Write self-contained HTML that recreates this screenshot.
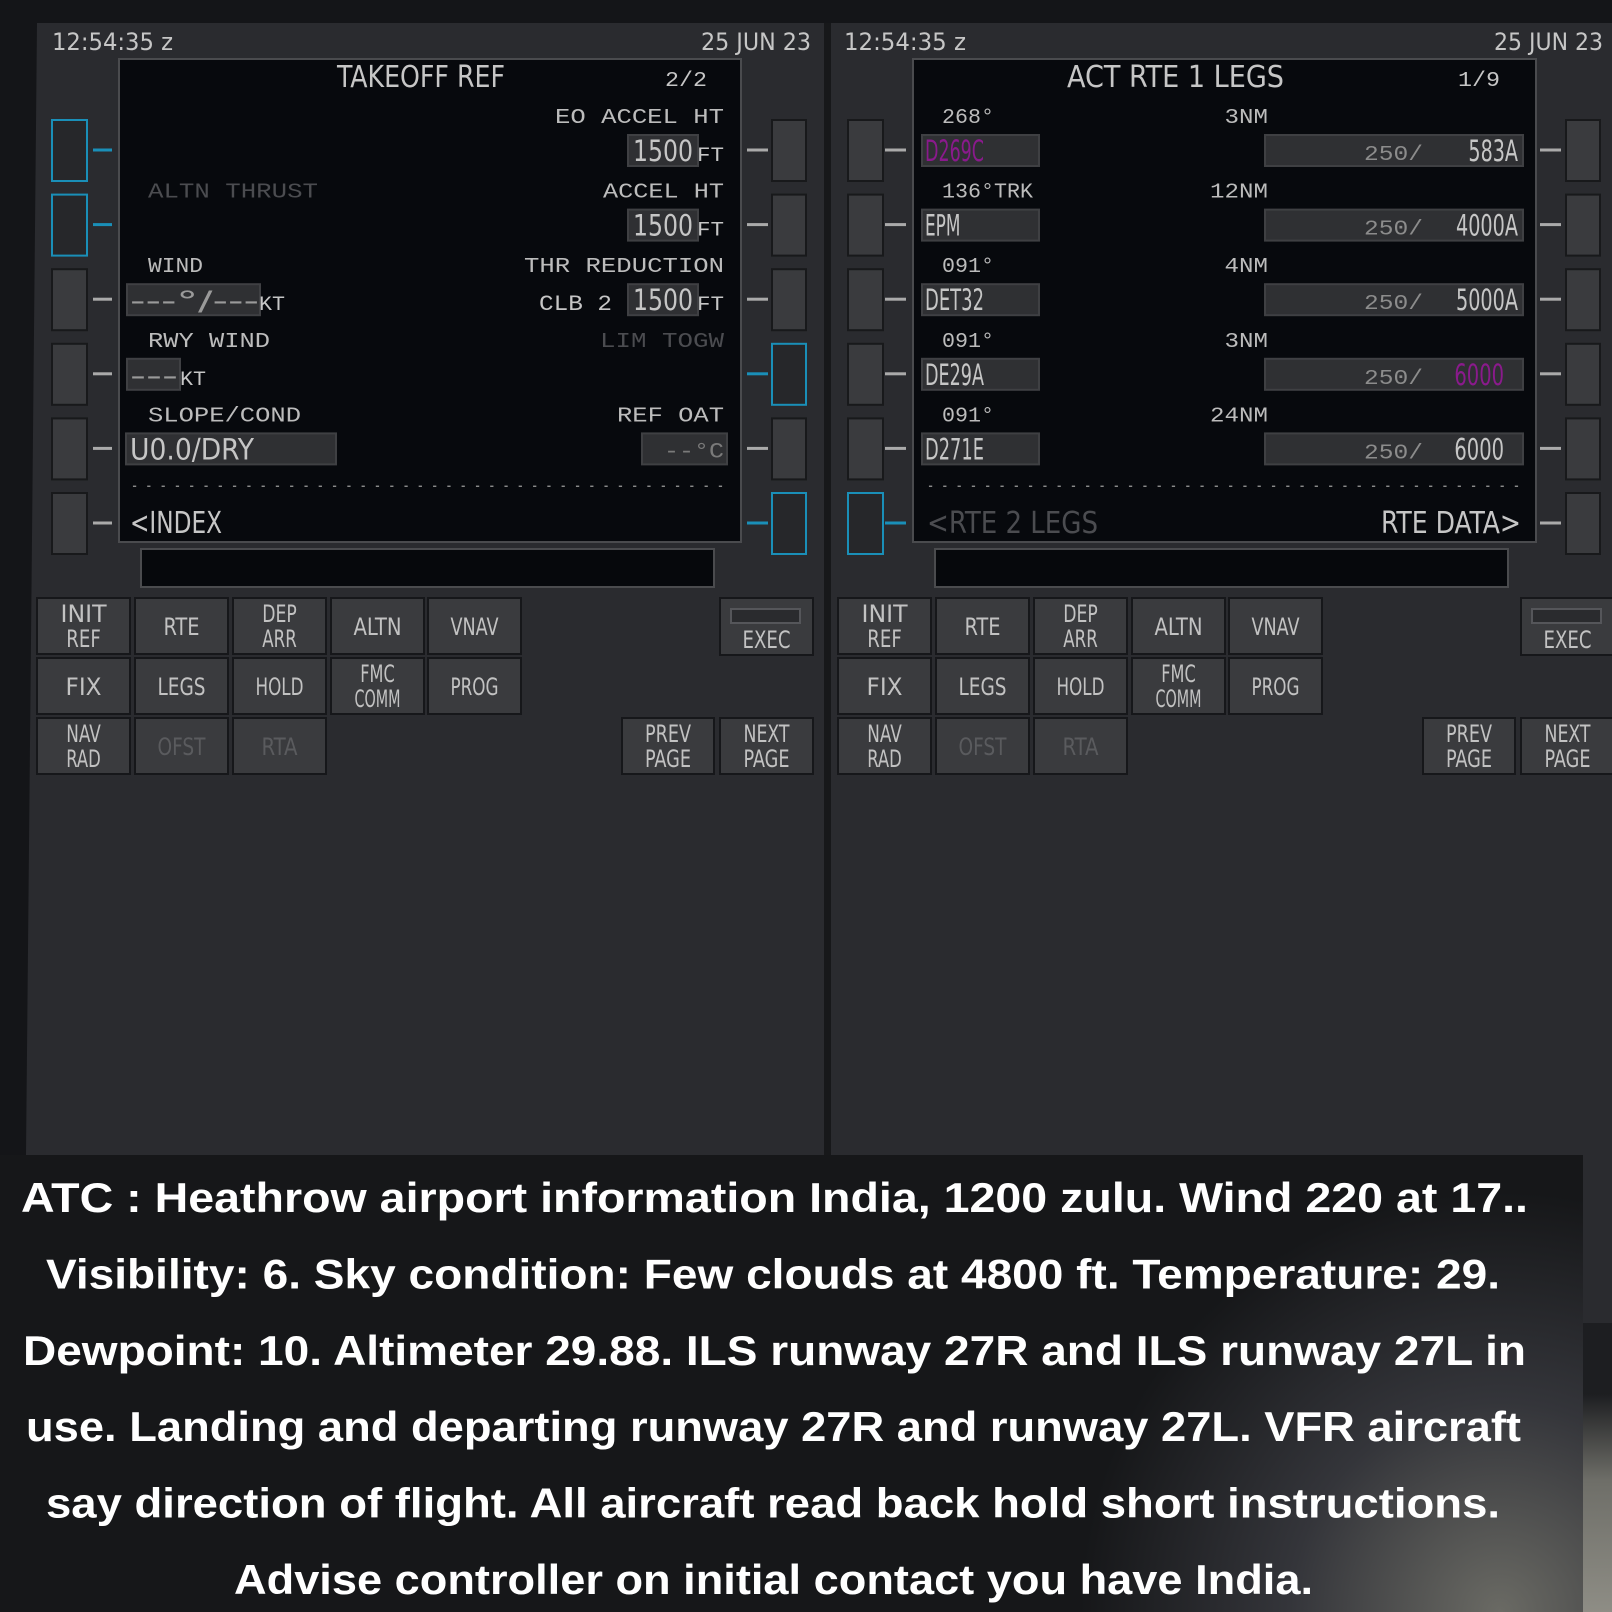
<!DOCTYPE html>
<html><head><meta charset="utf-8"><style>
html,body{margin:0;padding:0;background:#141518;}
svg{display:block;}
</style></head><body>
<svg id="s" width="1612" height="1612" viewBox="0 0 1612 1612" xmlns="http://www.w3.org/2000/svg">
<defs>
<radialGradient id="glow" cx="1500" cy="1612" r="420" gradientUnits="userSpaceOnUse">
<stop offset="0" stop-color="#6a6a64"/><stop offset="0.5" stop-color="#34353a"/><stop offset="1" stop-color="#161719"/>
</radialGradient>
<linearGradient id="strip" x1="0" y1="1393" x2="0" y2="1612" gradientUnits="userSpaceOnUse">
<stop offset="0" stop-color="#1c1d20"/><stop offset="0.4" stop-color="#6e6e68"/><stop offset="1" stop-color="#8e8d85"/>
</linearGradient>
</defs>
<rect x="0" y="0" width="1612" height="1612" fill="#141518"/>
<polygon points="37,23 825,23 825,1155 26,1155" fill="#2a2b2f"/>
<rect x="831" y="23" width="781" height="1300" fill="#2a2b2f"/>
<rect x="824" y="23" width="7" height="1132" fill="#17181a"/>
<rect x="1583" y="1323" width="29" height="70" fill="#1d1e21"/>
<rect x="1583" y="1393" width="29" height="219" fill="url(#strip)"/>
<rect x="0" y="1155" width="1583" height="457" fill="url(#glow)"/>
<g id="g"></g>
</svg>
<script>
const svg=document.getElementById('g');
const NS='http://www.w3.org/2000/svg';
const FMC='"Liberation Sans Narrow","DejaVu Sans Condensed","Liberation Sans",sans-serif';
const MONO='"Liberation Mono","DejaVu Sans Mono",monospace';
function R(x,y,w,h,fill,stroke,name,inter){
  const el=document.createElementNS(NS,'rect');
  el.setAttribute('x',x);el.setAttribute('y',y);el.setAttribute('width',w);el.setAttribute('height',h);
  el.setAttribute('fill',fill);
  if(stroke){el.setAttribute('stroke',stroke);el.setAttribute('stroke-width',2);}
  
  
  svg.appendChild(el);return el;
}
function T(x,y,str,size,len,anchor,fill,fam,name,weight){
  const el=document.createElementNS(NS,'text');
  el.setAttribute('x',x);el.setAttribute('y',y);
  el.setAttribute('font-size',size);el.setAttribute('font-family',fam||FMC);
  el.setAttribute('fill',fill||'#c8c8c8');
  if(anchor)el.setAttribute('text-anchor',anchor);
  if(weight)el.setAttribute('font-weight',weight);
  if(len){el.setAttribute('textLength',len);el.setAttribute('lengthAdjust','spacingAndGlyphs');}
  el.textContent=str;
  
  
  svg.appendChild(el);return el;
}
const C='#c6c6c6', DIM='#4b4c50', MAG='#8a1a8c', CYAN='#1a8fb8', LBL='#bcbcbc';
const ROW=i=>150+74.6*i;

function screen(ox,w,side){
  R(ox,59,w,483,'#07090d','#4a4b4e',side+'-display',false);
  R(ox+22,549,573,38,'#06080c','#4a4b4e',side+'-scratchpad',true);
}
screen(119,622,'left');
screen(913,623,'right');

function keys(lx,dx1,dx2,rx,rdx1,rdx2,cyanL,cyanR,side){
  for(let i=0;i<6;i++){
    const c=ROW(i);
    const cl=cyanL.includes(i), cr=cyanR.includes(i);
    R(lx,c-30,35,61,cl?'#26272a':'#3a3b3e',cl?CYAN:'#18191b',side+'-lsk-left-'+(i+1),true);
    R(dx1,c-1.5,dx2-dx1,3,cl?CYAN:'#aaaaaa',null,side+'-lsk-left-tick-'+(i+1),false);
    R(rx,c-30,34,61,cr?'#26272a':'#3a3b3e',cr?CYAN:'#18191b',side+'-lsk-right-'+(i+1),true);
    R(rdx1,c-1.5,rdx2-rdx1,3,cr?CYAN:'#aaaaaa',null,side+'-lsk-right-tick-'+(i+1),false);
  }
}
keys(52,93,112,772,747,768,[0,1],[3,5],'left');
keys(848,885,906,1566,1540,1561,[5],[],'right');

T(52,50,'12:54:35 z',24,121,null,C,FMC,'left-clock');
T(811,50,'25 JUN 23',24,110,'end',C,FMC,'left-date');
T(844,50,'12:54:35 z',24,122,null,C,FMC,'right-clock');
T(1603,50,'25 JUN 23',24,109,'end',C,FMC,'right-date');

T(337,87,'TAKEOFF REF',30,168,null,C,FMC,'page-title-takeoff-ref');
T(665,86,'2/2',21,42,null,C,MONO,'page-number-left');
function box(x,y,w,name){R(x,y,w,31,'#2f3033','#3f4043',name,true);}
function lbl(x,y,str,len,anchor,fill,name){return T(x,y,str,21,len,anchor,fill||LBL,MONO,name,'normal');}
lbl(724,ROW(0)-27,'EO ACCEL HT',169,'end',null,'label-eo-accel-ht');
box(628,ROW(0)-15,70,'eo-accel-ht-field');
T(633,ROW(0)+11,'1500',29,60,null,C,FMC,'eo-accel-ht-value');
T(697,ROW(0)+11,'FT',20,27,null,C,MONO,'eo-accel-ht-unit');
lbl(148,ROW(1)-27,'ALTN THRUST',170,null,DIM,'label-altn-thrust');
lbl(724,ROW(1)-27,'ACCEL HT',121,'end',null,'label-accel-ht');
box(628,ROW(1)-15,70,'accel-ht-field');
T(633,ROW(1)+11,'1500',29,60,null,C,FMC,'accel-ht-value');
T(697,ROW(1)+11,'FT',20,27,null,C,MONO,'accel-ht-unit');
lbl(148,ROW(2)-27,'WIND',55,null,null,'label-wind');
lbl(724,ROW(2)-27,'THR REDUCTION',200,'end',null,'label-thr-reduction');
box(127,ROW(2)-15,133,'wind-field');
T(130,ROW(2)+11,'---°/---',27,129,null,'#9a9a9a',FMC,'wind-value');
T(259,ROW(2)+11,'KT',20,26,null,C,MONO,'wind-unit');
T(539,ROW(2)+11,'CLB 2',22,73,null,C,MONO,'thr-reduction-mode');
box(628,ROW(2)-15,70,'thr-reduction-field');
T(633,ROW(2)+11,'1500',29,60,null,C,FMC,'thr-reduction-value');
T(697,ROW(2)+11,'FT',20,27,null,C,MONO,'thr-reduction-unit');
lbl(148,ROW(3)-27,'RWY WIND',122,null,null,'label-rwy-wind');
lbl(724,ROW(3)-27,'LIM TOGW',124,'end',DIM,'label-lim-togw');
box(127,ROW(3)-15,53,'rwy-wind-field');
T(130,ROW(3)+11,'---',27,48,null,'#9a9a9a',FMC,'rwy-wind-value');
T(180,ROW(3)+11,'KT',20,26,null,C,MONO,'rwy-wind-unit');
lbl(148,ROW(4)-27,'SLOPE/COND',153,null,null,'label-slope-cond');
lbl(724,ROW(4)-27,'REF OAT',107,'end',null,'label-ref-oat');
box(126,ROW(4)-15,210,'slope-cond-field');
T(130,ROW(4)+11,'U0.0/DRY',29,124,null,C,FMC,'slope-cond-value');
box(642,ROW(4)-15,85,'ref-oat-field');
T(724,ROW(4)+9,'--°C',22,60,'end','#7a7a7a',MONO,'ref-oat-value');
T(131,491,'- - - - - - - - - - - - - - - - - - - - - - - - - - - - - - - - - - - - - - - - - -',18,593,null,'#8a8a8a',MONO,'left-separator');
T(130,533,'<INDEX',30,92,null,C,FMC,'index-prompt');

T(1067,87,'ACT RTE 1 LEGS',30,217,null,C,FMC,'page-title-legs');
T(1458,86,'1/9',21,42,null,C,MONO,'page-number-right');
const courses=['268°','136°TRK','091°','091°','091°'];
const distances=['3NM','12NM','4NM','3NM','24NM'];
const waypoints=['D269C','EPM','DET32','DE29A','D271E'];
const speeds=['250/','250/','250/','250/','250/'];
const altitudes=['583A','4000A','5000A','6000','6000'];
const magentaWpt=[0];
const magentaAlt=[3];
for(let i=0;i<5;i++){
  const r=ROW(i);
  lbl(942,r-27,courses[i],courses[i].length*13,null,null,'leg-course-'+(i+1));
  lbl(1268,r-27,distances[i],distances[i].length*14.5,'end',null,'leg-distance-'+(i+1));
  box(922,r-15,117,'waypoint-field-'+(i+1));
  T(925,r+11,waypoints[i],29,waypoints[i].length*11.8,null,magentaWpt.includes(i)?MAG:C,FMC,'waypoint-'+(i+1));
  box(1265,r-15,258,'constraint-field-'+(i+1));
  T(1364,r+10,speeds[i],21,59,null,'#8c8c8c',MONO,'speed-constraint-'+(i+1));
  const endX=(i>=3)?1504:1518;
  T(endX,r+11,altitudes[i],29,altitudes[i].length*12.4,'end',magentaAlt.includes(i)?MAG:C,FMC,'altitude-constraint-'+(i+1));
}
T(927,491,'- - - - - - - - - - - - - - - - - - - - - - - - - - - - - - - - - - - - - - - - - -',18,593,null,'#8a8a8a',MONO,'right-separator');
T(927,533,'<RTE 2 LEGS',30,171,null,DIM,FMC,'rte-2-legs-prompt');
T(1521,533,'RTE DATA>',30,140,'end',C,FMC,'rte-data-prompt');

const keyCols=[37,135,233,331,428];
const keyRows=[598,658,718];
const keyLabels=[['INIT|REF','RTE','DEP|ARR','ALTN','VNAV'],['FIX','LEGS','HOLD','FMC|COMM','PROG'],['NAV|RAD','OFST','RTA']];
const dimKeys=['OFST','RTA'];
function fkey(x,y,w,h,label,side,dim,base){
  const nm=side+'-key-'+label.replace('|','-').toLowerCase();
  R(x,y,w,h,'#3a3b3e','#16171a',nm,true);
  const col=dim?'#5a5b5e':'#c2c2c2';
  const parts=label.split('|');
  const cx=x+w/2;
  if(parts.length===1){
    T(cx,base||(y+h/2+9),parts[0],24,parts[0].length*12,'middle',col,FMC,nm+'-label');
  }else{
    T(cx,y+h/2-4,parts[0],24,parts[0].length*11.5,'middle',col,FMC,nm+'-label-1');
    T(cx,y+h/2+21,parts[1],24,parts[1].length*11.5,'middle',col,FMC,nm+'-label-2');
  }
}
[0,801].forEach((off,si)=>{
  const side=si?'right':'left';
  keyLabels.forEach((row,ri)=>row.forEach((lab,ci)=>{
    fkey(keyCols[ci]+off,keyRows[ri],93,56,lab,side,dimKeys.includes(lab));
  }));
  fkey(720+off,598,93,57,'EXEC',side,false,648);
  R(731+off,609,69,14,'#2a2b2e','#55565a',side+'-exec-light',false);
  fkey(622+off,718,92,56,'PREV|PAGE',side,false);
  fkey(720+off,718,93,56,'NEXT|PAGE',side,false);
});

const subLines=['ATC :  Heathrow airport information India, 1200 zulu. Wind 220 at 17..',
'Visibility: 6. Sky condition: Few clouds at 4800 ft. Temperature: 29.',
'Dewpoint: 10. Altimeter 29.88. ILS runway 27R and ILS runway 27L in',
'use. Landing and departing runway 27R and runway 27L. VFR aircraft',
'say direction of flight. All aircraft read back hold short instructions.',
'Advise controller on initial contact you have India.'];
const subX=[21,46,23,26,46,234];
const subW=[1507,1454,1503,1495,1454,1079];
for(let i=0;i<6;i++){
  T(subX[i],1212+76.4*i,subLines[i],42,subW[i],null,'#ffffff','"Liberation Sans",sans-serif','subtitle-line-'+(i+1),'bold');
}
</script>
</body></html>
